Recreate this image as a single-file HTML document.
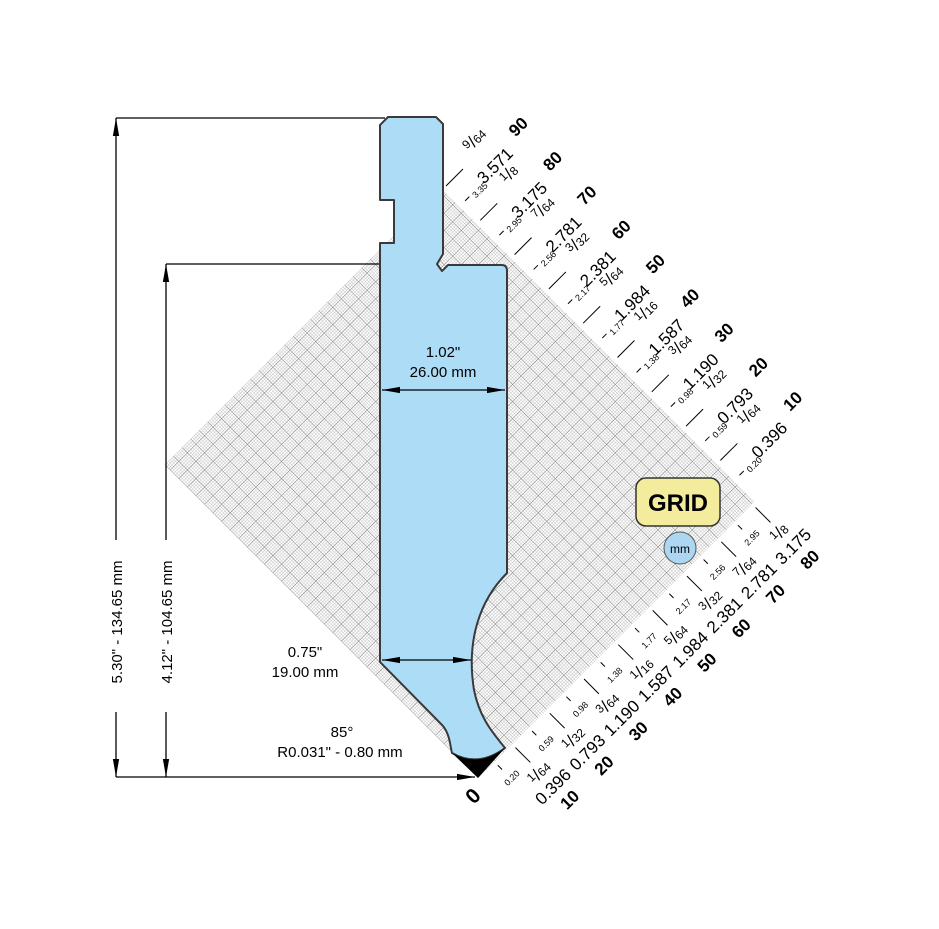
<!DOCTYPE html>
<html><head><meta charset="utf-8"><style>
html,body{margin:0;padding:0;background:#fff}
svg{display:block}
text{font-family:"Liberation Sans",Arial,sans-serif}
</style></head><body>
<svg width="939" height="929" viewBox="0 0 939 929" xmlns="http://www.w3.org/2000/svg">
<defs>
<pattern id="minor" width="2.42" height="2.42" patternUnits="userSpaceOnUse">
<path d="M0,0 H2.42 M0,0 V2.42" stroke="#b4b4b4" stroke-width="0.7" fill="none"/>
</pattern>
<pattern id="major" width="12.1" height="12.1" patternUnits="userSpaceOnUse">
<path d="M0,0 H12.1 M0,0 V12.1" stroke="#808080" stroke-width="0.9" fill="none"/>
</pattern>
<marker id="av" viewBox="0 0 20 10" refX="20" refY="5" markerWidth="20" markerHeight="9" markerUnits="userSpaceOnUse" orient="auto-start-reverse">
<path d="M0,1.5 L20,5 L0,8.5 Z" fill="#000"/>
</marker>
</defs>

<g transform="translate(478,778) rotate(-45)">
<rect x="0" y="-443" width="391" height="443" fill="url(#minor)"/>
<rect x="0" y="-443" width="391" height="443" fill="url(#major)"/>
</g>

<g stroke="#000" stroke-width="1.3" fill="none">
<line x1="116" y1="118" x2="385" y2="118"/>
<line x1="166" y1="264" x2="379" y2="264"/>
<line x1="116" y1="777" x2="475" y2="777" marker-end="url(#av)"/>
<line x1="116" y1="540" x2="116" y2="118" marker-end="url(#av)"/>
<line x1="116" y1="712" x2="116" y2="777" marker-end="url(#av)"/>
<line x1="166" y1="540" x2="166" y2="264" marker-end="url(#av)"/>
<line x1="166" y1="712" x2="166" y2="777" marker-end="url(#av)"/>
</g>
<text transform="translate(122,622) rotate(-90)" font-size="15" text-anchor="middle">5.30" - 134.65 mm</text>
<text transform="translate(172,622) rotate(-90)" font-size="15" text-anchor="middle">4.12" - 104.65 mm</text>

<path d="M388,117 L436,117 L443,124 L443,254 L437,264 L442,271 L448,265 L502,265 Q507,265 507,271 L507,573 C480,600 466,640 474,690 C480,720 495,735 505,748 Q478,768 452,753 C450,745 450,735 443,726 L380,662 L380,243 L394,243 L394,200 L380,200 L380,125 Z" fill="#acdcf6" stroke="#3a3a3a" stroke-width="2" stroke-linejoin="round"/>
<path d="M452,753 Q478,768 505,748 L478,778 Z" fill="#000"/>

<g stroke="#000" stroke-width="1.3" fill="none">
<line x1="382" y1="390" x2="505" y2="390" marker-start="url(#av)" marker-end="url(#av)"/>
<line x1="382" y1="660" x2="471" y2="660" marker-start="url(#av)" marker-end="url(#av)"/>
</g>
<g font-size="15" text-anchor="middle">
<text x="443" y="357">1.02"</text>
<text x="443" y="377">26.00 mm</text>
<text x="305" y="657">0.75"</text>
<text x="305" y="677">19.00 mm</text>
<text x="342" y="737">85°</text>
<text x="340" y="757">R0.031" - 0.80 mm</text>
</g>

<rect x="636" y="478" width="84" height="48" rx="10" fill="#f2ec9c" stroke="#333" stroke-width="1.5"/>
<text x="678" y="511" font-size="24" font-weight="bold" text-anchor="middle">GRID</text>
<circle cx="680" cy="548" r="16" fill="#acd6f2" stroke="#555" stroke-width="1"/>
<text x="680" y="553" font-size="12" text-anchor="middle">mm</text>

<g transform="translate(446,186) rotate(-45)"><line x1="0" y1="0" x2="24" y2="0" stroke="#000"/><line x1="3" y1="24" x2="9" y2="24" stroke="#000"/><text x="21" y="30" font-size="9" text-anchor="middle">3.35</text><text x="53" y="-7" text-anchor="middle"><tspan font-size="12" dy="-4">9</tspan><tspan font-size="17" dy="4">/</tspan><tspan font-size="12">64</tspan></text><text x="49" y="26" font-size="17" text-anchor="middle">3.571</text><text x="93" y="15" font-size="17" font-weight="bold" text-anchor="middle">90</text></g>
<g transform="translate(480.3,220.3) rotate(-45)"><line x1="0" y1="0" x2="24" y2="0" stroke="#000"/><line x1="3" y1="24" x2="9" y2="24" stroke="#000"/><text x="21" y="30" font-size="9" text-anchor="middle">2.95</text><text x="53" y="-7" text-anchor="middle"><tspan font-size="12" dy="-4">1</tspan><tspan font-size="17" dy="4">/</tspan><tspan font-size="12">8</tspan></text><text x="49" y="26" font-size="17" text-anchor="middle">3.175</text><text x="93" y="15" font-size="17" font-weight="bold" text-anchor="middle">80</text></g>
<g transform="translate(514.6,254.6) rotate(-45)"><line x1="0" y1="0" x2="24" y2="0" stroke="#000"/><line x1="3" y1="24" x2="9" y2="24" stroke="#000"/><text x="21" y="30" font-size="9" text-anchor="middle">2.56</text><text x="53" y="-7" text-anchor="middle"><tspan font-size="12" dy="-4">7</tspan><tspan font-size="17" dy="4">/</tspan><tspan font-size="12">64</tspan></text><text x="49" y="26" font-size="17" text-anchor="middle">2.781</text><text x="93" y="15" font-size="17" font-weight="bold" text-anchor="middle">70</text></g>
<g transform="translate(548.9,288.9) rotate(-45)"><line x1="0" y1="0" x2="24" y2="0" stroke="#000"/><line x1="3" y1="24" x2="9" y2="24" stroke="#000"/><text x="21" y="30" font-size="9" text-anchor="middle">2.17</text><text x="53" y="-7" text-anchor="middle"><tspan font-size="12" dy="-4">3</tspan><tspan font-size="17" dy="4">/</tspan><tspan font-size="12">32</tspan></text><text x="49" y="26" font-size="17" text-anchor="middle">2.381</text><text x="93" y="15" font-size="17" font-weight="bold" text-anchor="middle">60</text></g>
<g transform="translate(583.2,323.2) rotate(-45)"><line x1="0" y1="0" x2="24" y2="0" stroke="#000"/><line x1="3" y1="24" x2="9" y2="24" stroke="#000"/><text x="21" y="30" font-size="9" text-anchor="middle">1.77</text><text x="53" y="-7" text-anchor="middle"><tspan font-size="12" dy="-4">5</tspan><tspan font-size="17" dy="4">/</tspan><tspan font-size="12">64</tspan></text><text x="49" y="26" font-size="17" text-anchor="middle">1.984</text><text x="93" y="15" font-size="17" font-weight="bold" text-anchor="middle">50</text></g>
<g transform="translate(617.5,357.5) rotate(-45)"><line x1="0" y1="0" x2="24" y2="0" stroke="#000"/><line x1="3" y1="24" x2="9" y2="24" stroke="#000"/><text x="21" y="30" font-size="9" text-anchor="middle">1.38</text><text x="53" y="-7" text-anchor="middle"><tspan font-size="12" dy="-4">1</tspan><tspan font-size="17" dy="4">/</tspan><tspan font-size="12">16</tspan></text><text x="49" y="26" font-size="17" text-anchor="middle">1.587</text><text x="93" y="15" font-size="17" font-weight="bold" text-anchor="middle">40</text></g>
<g transform="translate(651.8,391.8) rotate(-45)"><line x1="0" y1="0" x2="24" y2="0" stroke="#000"/><line x1="3" y1="24" x2="9" y2="24" stroke="#000"/><text x="21" y="30" font-size="9" text-anchor="middle">0.98</text><text x="53" y="-7" text-anchor="middle"><tspan font-size="12" dy="-4">3</tspan><tspan font-size="17" dy="4">/</tspan><tspan font-size="12">64</tspan></text><text x="49" y="26" font-size="17" text-anchor="middle">1.190</text><text x="93" y="15" font-size="17" font-weight="bold" text-anchor="middle">30</text></g>
<g transform="translate(686.1,426.1) rotate(-45)"><line x1="0" y1="0" x2="24" y2="0" stroke="#000"/><line x1="3" y1="24" x2="9" y2="24" stroke="#000"/><text x="21" y="30" font-size="9" text-anchor="middle">0.59</text><text x="53" y="-7" text-anchor="middle"><tspan font-size="12" dy="-4">1</tspan><tspan font-size="17" dy="4">/</tspan><tspan font-size="12">32</tspan></text><text x="49" y="26" font-size="17" text-anchor="middle">0.793</text><text x="93" y="15" font-size="17" font-weight="bold" text-anchor="middle">20</text></g>
<g transform="translate(720.4,460.4) rotate(-45)"><line x1="0" y1="0" x2="24" y2="0" stroke="#000"/><line x1="3" y1="24" x2="9" y2="24" stroke="#000"/><text x="21" y="30" font-size="9" text-anchor="middle">0.20</text><text x="53" y="-7" text-anchor="middle"><tspan font-size="12" dy="-4">1</tspan><tspan font-size="17" dy="4">/</tspan><tspan font-size="12">64</tspan></text><text x="49" y="26" font-size="17" text-anchor="middle">0.396</text><text x="93" y="15" font-size="17" font-weight="bold" text-anchor="middle">10</text></g>

<text transform="translate(478,801) rotate(-45)" font-size="21" font-weight="bold" text-anchor="middle">0</text>
<g transform="translate(478,778) rotate(-45)"><line x1="23" y1="5" x2="23" y2="11" stroke="#000"/><text x="24" y="27" font-size="9" text-anchor="middle">0.20</text><line x1="48" y1="5" x2="48" y2="26" stroke="#000"/><text x="47" y="45" text-anchor="middle"><tspan font-size="12" dy="-4">1</tspan><tspan font-size="17" dy="4">/</tspan><tspan font-size="12">64</tspan></text><text x="47" y="65" font-size="17" text-anchor="middle">0.396</text><text x="49.5" y="86" font-size="17" font-weight="bold" text-anchor="middle">10</text></g>
<g transform="translate(512.3,743.7) rotate(-45)"><line x1="23" y1="5" x2="23" y2="11" stroke="#000"/><text x="24" y="27" font-size="9" text-anchor="middle">0.59</text><line x1="48" y1="5" x2="48" y2="26" stroke="#000"/><text x="47" y="45" text-anchor="middle"><tspan font-size="12" dy="-4">1</tspan><tspan font-size="17" dy="4">/</tspan><tspan font-size="12">32</tspan></text><text x="47" y="65" font-size="17" text-anchor="middle">0.793</text><text x="49.5" y="86" font-size="17" font-weight="bold" text-anchor="middle">20</text></g>
<g transform="translate(546.6,709.4) rotate(-45)"><line x1="23" y1="5" x2="23" y2="11" stroke="#000"/><text x="24" y="27" font-size="9" text-anchor="middle">0.98</text><line x1="48" y1="5" x2="48" y2="26" stroke="#000"/><text x="47" y="45" text-anchor="middle"><tspan font-size="12" dy="-4">3</tspan><tspan font-size="17" dy="4">/</tspan><tspan font-size="12">64</tspan></text><text x="47" y="65" font-size="17" text-anchor="middle">1.190</text><text x="49.5" y="86" font-size="17" font-weight="bold" text-anchor="middle">30</text></g>
<g transform="translate(580.9,675.1) rotate(-45)"><line x1="23" y1="5" x2="23" y2="11" stroke="#000"/><text x="24" y="27" font-size="9" text-anchor="middle">1.38</text><line x1="48" y1="5" x2="48" y2="26" stroke="#000"/><text x="47" y="45" text-anchor="middle"><tspan font-size="12" dy="-4">1</tspan><tspan font-size="17" dy="4">/</tspan><tspan font-size="12">16</tspan></text><text x="47" y="65" font-size="17" text-anchor="middle">1.587</text><text x="49.5" y="86" font-size="17" font-weight="bold" text-anchor="middle">40</text></g>
<g transform="translate(615.2,640.8) rotate(-45)"><line x1="23" y1="5" x2="23" y2="11" stroke="#000"/><text x="24" y="27" font-size="9" text-anchor="middle">1.77</text><line x1="48" y1="5" x2="48" y2="26" stroke="#000"/><text x="47" y="45" text-anchor="middle"><tspan font-size="12" dy="-4">5</tspan><tspan font-size="17" dy="4">/</tspan><tspan font-size="12">64</tspan></text><text x="47" y="65" font-size="17" text-anchor="middle">1.984</text><text x="49.5" y="86" font-size="17" font-weight="bold" text-anchor="middle">50</text></g>
<g transform="translate(649.5,606.5) rotate(-45)"><line x1="23" y1="5" x2="23" y2="11" stroke="#000"/><text x="24" y="27" font-size="9" text-anchor="middle">2.17</text><line x1="48" y1="5" x2="48" y2="26" stroke="#000"/><text x="47" y="45" text-anchor="middle"><tspan font-size="12" dy="-4">3</tspan><tspan font-size="17" dy="4">/</tspan><tspan font-size="12">32</tspan></text><text x="47" y="65" font-size="17" text-anchor="middle">2.381</text><text x="49.5" y="86" font-size="17" font-weight="bold" text-anchor="middle">60</text></g>
<g transform="translate(683.8,572.2) rotate(-45)"><line x1="23" y1="5" x2="23" y2="11" stroke="#000"/><text x="24" y="27" font-size="9" text-anchor="middle">2.56</text><line x1="48" y1="5" x2="48" y2="26" stroke="#000"/><text x="47" y="45" text-anchor="middle"><tspan font-size="12" dy="-4">7</tspan><tspan font-size="17" dy="4">/</tspan><tspan font-size="12">64</tspan></text><text x="47" y="65" font-size="17" text-anchor="middle">2.781</text><text x="49.5" y="86" font-size="17" font-weight="bold" text-anchor="middle">70</text></g>
<g transform="translate(718.1,537.9) rotate(-45)"><line x1="23" y1="5" x2="23" y2="11" stroke="#000"/><text x="24" y="27" font-size="9" text-anchor="middle">2.95</text><line x1="48" y1="5" x2="48" y2="26" stroke="#000"/><text x="47" y="45" text-anchor="middle"><tspan font-size="12" dy="-4">1</tspan><tspan font-size="17" dy="4">/</tspan><tspan font-size="12">8</tspan></text><text x="47" y="65" font-size="17" text-anchor="middle">3.175</text><text x="49.5" y="86" font-size="17" font-weight="bold" text-anchor="middle">80</text></g>
</svg>
</body></html>
